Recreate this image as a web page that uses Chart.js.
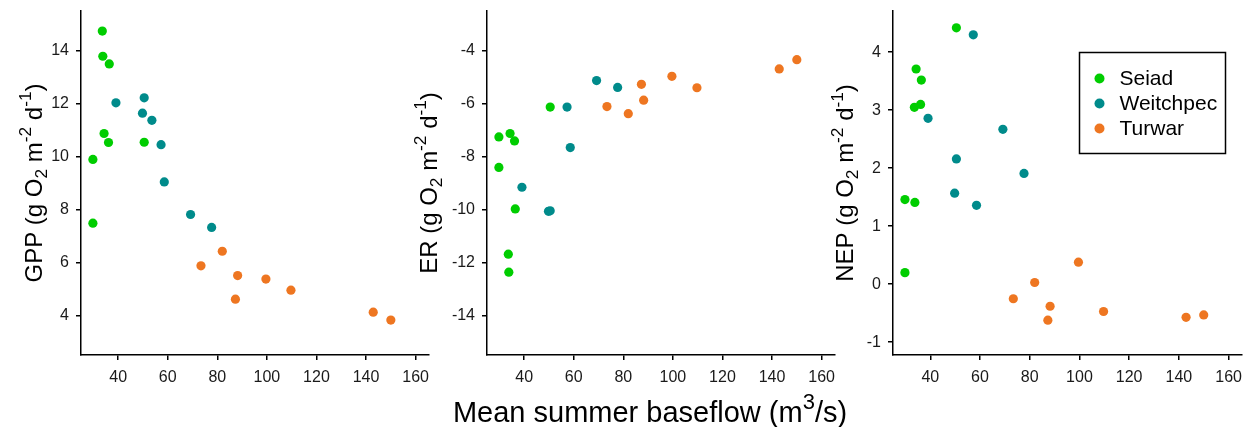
<!DOCTYPE html>
<html>
<head>
<meta charset="utf-8">
<script src="https://cdn.jsdelivr.net/npm/chart.js@4.4.1/dist/chart.umd.min.js"></script>
<style>
  html, body { margin: 0; padding: 0; background: #fff; }
  body { position: relative; width: 1249px; height: 427px; overflow: hidden; }
  canvas { position: absolute; top: 0; }
  #xtitle {
    position: absolute; left: 350px; width: 600px; top: 398px;
    text-align: center; font: 29px "Liberation Sans", Arial, sans-serif;
    line-height: 29px; color: #000; white-space: nowrap;
  }
  #xtitle span { font-size: 22px; position: relative; top: -13px; }
</style>
</head>
<body>
<canvas id="gpp" width="440" height="427" style="left:0px"></canvas>
<canvas id="er" width="440" height="427" style="left:406px"></canvas>
<canvas id="nep" width="440" height="427" style="left:812px"></canvas>
<div id="xtitle">Mean summer baseflow (m<span>3</span>/s)</div>
<script>
const FONT = '"Liberation Sans", Arial, sans-serif';

// site names and colours
const sites = ['Seiad', 'Weitchpec', 'Turwar'];
const siteColors = ['#00cd00', '#008b8b', '#ee7621'];

// mean summer baseflow (m3/s) for each sample
const seiadX = [29.8, 29.8, 33.6, 33.8, 34.3, 36.1, 36.4, 50.5];
const weitchpecX = [39.1, 49.8, 50.5, 53.6, 57.3, 58.6, 69.2, 77.7];
const turwarX = [73.4, 82.0, 87.3, 88.2, 99.6, 109.7, 142.9, 150.0];

// GPP
const seiadGPP = [9.89, 7.48, 14.74, 13.79, 10.87, 10.53, 13.50, 10.54];
const weitchpecGPP = [12.03, 11.64, 12.22, 11.37, 10.45, 9.04, 7.81, 7.32];
const turwarGPP = [5.87, 6.42, 4.61, 5.50, 5.37, 4.95, 4.12, 3.82];

// ER
const seiadER = [-8.41, -7.26, -11.69, -12.37, -7.13, -7.41, -9.98, -6.13];
const weitchpecER = [-9.16, -10.07, -10.05, null, -6.13, -7.66, -5.13, -5.39];
const turwarER = [-6.11, -6.38, -5.27, -5.87, -4.97, -5.40, -4.69, -4.34];

// NEP
const seiadNEP = [1.46, 0.20, 3.05, 1.41, 3.71, 3.10, 3.52, 4.42];
const weitchpecNEP = [2.86, 1.57, 2.16, null, 4.30, 1.36, 2.67, 1.91];
const turwarNEP = [-0.25, 0.03, -0.62, -0.38, 0.38, -0.47, -0.57, -0.53];

// tick labels
const xTicks = [40, 60, 80, 100, 120, 140, 160];
const gppTicks = [4, 6, 8, 10, 12, 14];
const erTicks = [-14, -12, -10, -8, -6, -4];
const nepTicks = [-1, 0, 1, 2, 3, 4];

const siteX = [seiadX, weitchpecX, turwarX];

function pairs(xs, ys) {
  return xs.map((x, i) => ({ x: x, y: ys[i] })).filter(p => p.y !== null);
}

function datasets(ysBySite) {
  return sites.map((name, i) => ({
    label: name,
    data: pairs(siteX[i], ysBySite[i]),
    backgroundColor: siteColors[i],
    borderWidth: 0,
    pointRadius: 4.6,
    pointHoverRadius: 4.6
  }));
}

// y axis title with sub/superscripts, drawn rotated
const richTitle = {
  id: 'richTitle',
  afterDraw(chart, args, opts) {
    const { ctx, chartArea } = chart;
    const size = opts.size;
    let total = 0;
    const runs = opts.parts.map(([text, kind]) => {
      const s = kind ? size * 0.72 : size;
      ctx.font = s + 'px ' + FONT;
      const w = ctx.measureText(text).width;
      total += w;
      return { text, kind, s, w };
    });
    ctx.save();
    ctx.translate(chartArea.left - opts.offset, (chartArea.top + chartArea.bottom) / 2);
    ctx.rotate(-Math.PI / 2);
    ctx.fillStyle = '#000';
    ctx.textBaseline = 'alphabetic';
    let x = -total / 2;
    runs.forEach(r => {
      ctx.font = r.s + 'px ' + FONT;
      const dy = r.kind === 'sub' ? size * 0.22 : r.kind === 'sup' ? -size * 0.42 : 0;
      ctx.fillText(r.text, x, dy);
      x += r.w;
    });
    ctx.restore();
  }
};

// boxed legend inside the plot
const boxLegend = {
  id: 'boxLegend',
  afterDraw(chart, args, opts) {
    if (!opts.show) return;
    const { ctx, chartArea } = chart;
    const left = chartArea.left + 186.5, top = chartArea.top + 41.5;
    ctx.save();
    ctx.strokeStyle = '#000';
    ctx.lineWidth = 1.5;
    ctx.strokeRect(left, top, 146, 101);
    ctx.font = '21px ' + FONT;
    ctx.textBaseline = 'middle';
    ctx.fillStyle = '#000';
    chart.data.datasets.forEach((ds, i) => {
      const y = top + 26 + i * 25;
      ctx.beginPath();
      ctx.fillStyle = ds.backgroundColor;
      ctx.arc(left + 20, y, 5, 0, Math.PI * 2);
      ctx.fill();
      ctx.fillStyle = '#000';
      ctx.fillText(ds.label, left + 40, y + 1);
    });
    ctx.restore();
  }
};

function makePanel(id, ysBySite, yMin, yMax, yTicks, title, titleOffset, padRight, legend) {
  const axisLine = { display: true, color: '#000', width: 1.5 };
  const grid = { display: true, drawOnChartArea: false, drawTicks: true, tickLength: 5, color: '#000', lineWidth: 1.5 };
  return new Chart(document.getElementById(id), {
    type: 'scatter',
    data: { datasets: datasets(ysBySite) },
    plugins: [richTitle, boxLegend],
    options: {
      responsive: false,
      animation: false,
      devicePixelRatio: 1,
      layout: { padding: { top: 11, right: padRight, left: 0, bottom: 0 } },
      scales: {
        x: {
          type: 'linear', min: 25, max: 165.4,
          border: axisLine, grid: grid,
          afterBuildTicks: s => { s.ticks = xTicks.map(v => ({ value: v })); },
          afterFit: s => { s.height = 72; s.paddingLeft = 0; s.paddingRight = 0; },
          ticks: { color: '#1a1a1a', padding: 8, maxRotation: 0, font: { size: 16, family: FONT } }
        },
        y: {
          type: 'linear', min: yMin, max: yMax,
          border: axisLine, grid: grid,
          afterBuildTicks: s => { s.ticks = yTicks.map(v => ({ value: v })); },
          afterFit: s => { s.width = 81; s.paddingTop = 0; s.paddingBottom = 0; },
          ticks: { color: '#1a1a1a', padding: 7, font: { size: 16, family: FONT } }
        }
      },
      plugins: {
        legend: { display: false },
        tooltip: { enabled: false },
        richTitle: { parts: title, size: 24, offset: titleOffset },
        boxLegend: { show: legend }
      }
    }
  });
}

const unitParts = [[' (g O', null], ['2', 'sub'], [' m', null], ['-2', 'sup'], [' d', null], ['-1', 'sup'], [')', null]];

makePanel('gpp', [seiadGPP, weitchpecGPP, turwarGPP], 2.5, 15.5, gppTicks,
  [['GPP', null]].concat(unitParts), 39.5, 11, false);
makePanel('er', [seiadER, weitchpecER, turwarER], -15.5, -2.5, erTicks,
  [['ER', null]].concat(unitParts), 50.5, 11, false);
makePanel('nep', [seiadNEP, weitchpecNEP, turwarNEP], -1.22, 4.71, nepTicks,
  [['NEP', null]].concat(unitParts), 40, 10, true);
</script>
</body>
</html>
